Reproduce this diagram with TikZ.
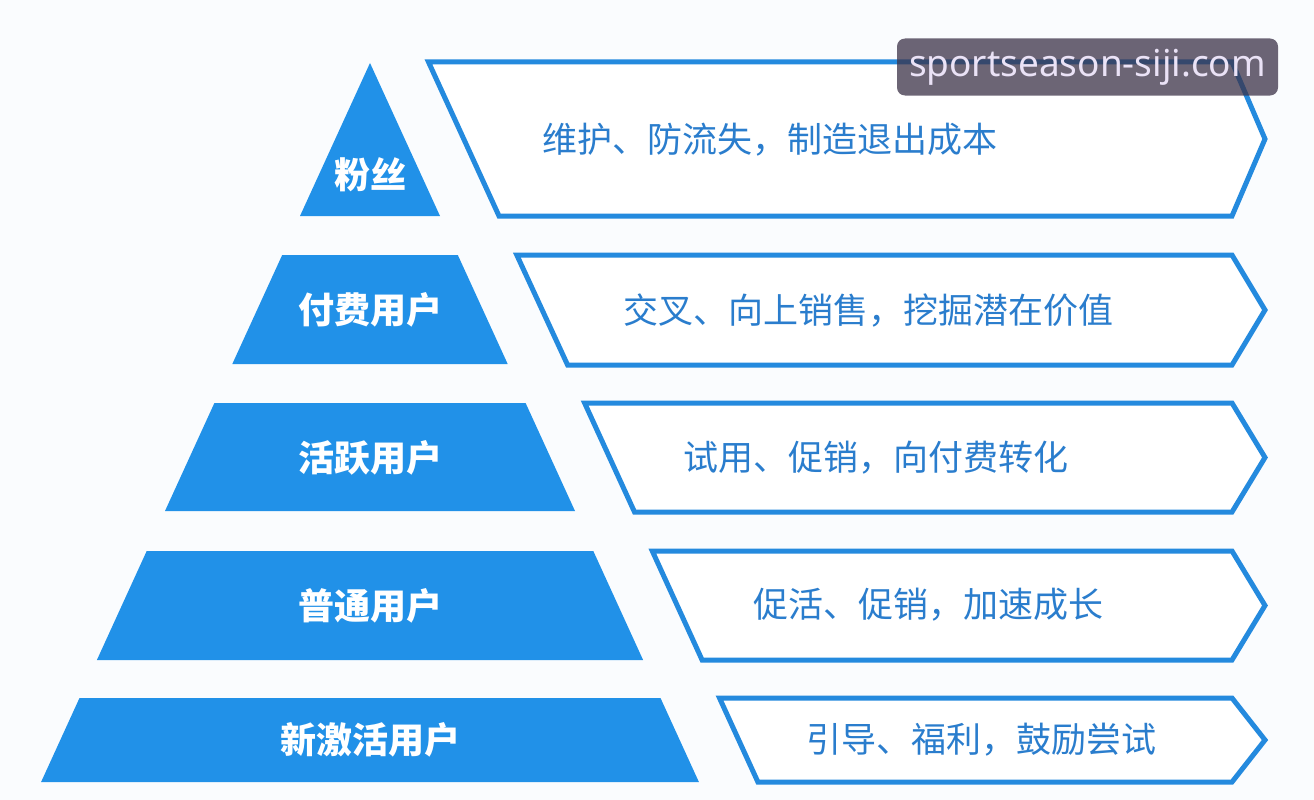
\documentclass[tikz,border=0pt]{standalone}
\usepackage{fontspec}
\newfontfamily\cjk{Noto Sans CJK SC}
\newfontfamily\wmfont{Noto Sans}
\usetikzlibrary{positioning}
\definecolor{pyrblue}{RGB}{33,145,232}
\definecolor{lineblue}{RGB}{36,138,222}
\definecolor{txtblue}{RGB}{42,125,205}
\definecolor{bgcol}{RGB}{250,252,254}
\definecolor{wmgray}{RGB}{60,50,72}
\definecolor{wmtext}{RGB}{234,226,246}

\begin{document}
\begin{tikzpicture}[x=1pt, y=-1pt, every node/.style={inner sep=0pt}]
\tikzstyle{layer}=[fill=pyrblue]
\tikzstyle{tag}=[draw=lineblue, line width=5pt, line join=miter, fill=white]
\tikzstyle{lvl}=[text=white, font=\cjk\bfseries\fontsize{36}{40}\selectfont]
\tikzstyle{tip}=[text=txtblue, font=\cjk\fontsize{35}{40}\selectfont]
\tikzstyle{wm}=[fill=wmgray, fill opacity=0.75, text opacity=1, text=wmtext, rounded corners=8pt, minimum width=381pt, minimum height=57pt, font=\wmfont\fontsize{37}{40}\selectfont]
\fill[bgcol] (0,0) rectangle (1314,800);
\useasboundingbox (0,0) rectangle (1314,800);

\fill[layer] (370,63) -- (440,216) -- (300,216) -- cycle;
\fill[layer] (282.2,255) -- (457.8,255) -- (507.7,364) -- (232.3,364) -- cycle;
\fill[layer] (214.4,403) -- (525.6,403) -- (575,511) -- (165,511) -- cycle;
\fill[layer] (146.7,551) -- (593.3,551) -- (643.1,660) -- (96.9,660) -- cycle;
\fill[layer] (79.5,698) -- (660.5,698) -- (698.9,782) -- (41.1,782) -- cycle;

\draw[tag] (428.5,62) -- (1232,62) -- (1265,139) -- (1232,216) -- (499,216) -- cycle;
\draw[tag] (516.8,255) -- (1232,255) -- (1265,310) -- (1232,365) -- (567.6,365) -- cycle;
\draw[tag] (584.6,403) -- (1232,403) -- (1265,457.5) -- (1232,512) -- (634.5,512) -- cycle;
\draw[tag] (652.3,551) -- (1232,551) -- (1265,605.5) -- (1232,660) -- (702.1,660) -- cycle;
\draw[tag] (719.5,698) -- (1232,698) -- (1265,740) -- (1232,782) -- (757.9,782) -- cycle;

\node[lvl] (fans) at (370,175) {粉丝};
\node[lvl] (paid) at (370,310) {付费用户};
\node[lvl] (active) at (370,458) {活跃用户};
\node[lvl] (regular) at (370,606) {普通用户};
\node[lvl] (fresh) at (370,740) {新激活用户};

\node[tip] (keep) at (770,140) {维护、防流失，制造退出成本};
\node[tip] (upsell) at (868,311) {交叉、向上销售，挖掘潜在价值};
\node[tip] (convert) at (876,458) {试用、促销，向付费转化};
\node[tip] (boost) at (928,605) {促活、促销，加速成长};
\node[tip] (guide) at (981,740) {引导、福利，鼓励尝试};

\node[wm] (site) at (1087.5,67) {sportseason-siji.com};
\end{tikzpicture}
\end{document}
